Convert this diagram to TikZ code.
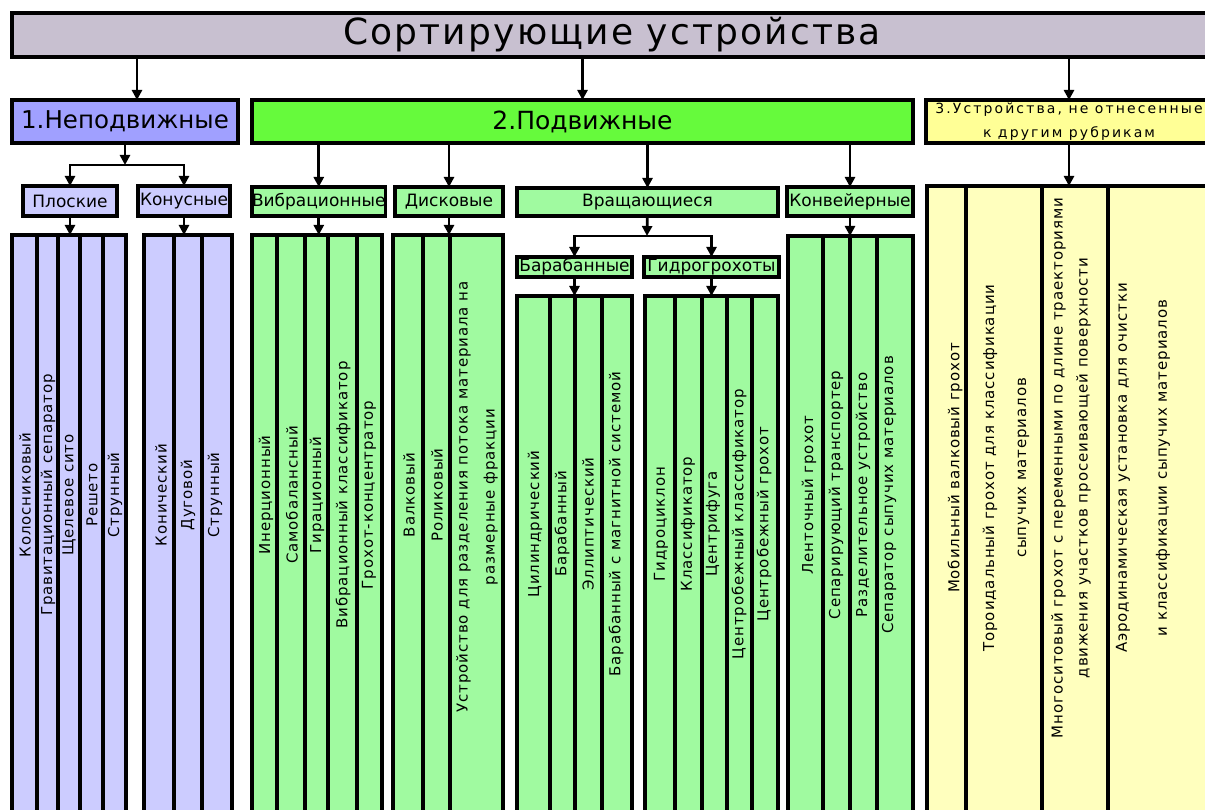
\documentclass[tikz,border=0pt]{standalone}
\usepackage{fontspec}
\setmainfont{DejaVu Sans}
\newfontfamily\cadfont[LetterSpace=6]{DejaVu Sans}
\newfontfamily\cadwide[LetterSpace=15]{DejaVu Sans}
\usetikzlibrary{arrows.meta}

\definecolor{titlegray}{RGB}{200,192,208}
\definecolor{blueA}{RGB}{160,160,255}
\definecolor{blueB}{RGB}{204,204,255}
\definecolor{greenA}{RGB}{102,250,60}
\definecolor{greenB}{RGB}{160,250,160}
\definecolor{yellowA}{RGB}{255,255,150}
\definecolor{yellowB}{RGB}{255,255,190}

\tikzset{
  box/.style={draw, line width=3.5pt, inner sep=0pt, outer sep=0pt, anchor=north west},
  arr/.style={line width=2.8pt, -{Triangle[length=10pt,width=10pt]}},
  divline/.style={line width=3.5pt},
  subtext/.style={font=\fontsize{17}{20}\selectfont},
  coltext/.style={rotate=90, align=center, font=\cadfont\fontsize{15}{24}\selectfont},
}

\begin{document}
\begin{tikzpicture}[x=1pt,y=-1pt]
        \useasboundingbox (0,0) rectangle (1205,810);
        \clip (0,0) rectangle (1205,810);

        % verh
        \node[box,fill=titlegray,minimum width=1200pt,minimum height=44pt,font=\cadfont\fontsize{36}{40}\selectfont] (title) at (12,13) {Сортирующие устройства};

        \node[box,fill=blueA,minimum width=226pt,minimum height=43pt,font=\fontsize{24.5}{30}\selectfont] (n1) at (12,100) {1.Неподвижные};
        \node[box,fill=greenA,minimum width=661pt,minimum height=43pt,font=\fontsize{25}{30}\selectfont] (n2) at (252,100) {2.Подвижные};
        \node[box,fill=yellowA,minimum width=286pt,minimum height=43pt,align=center,font=\cadwide\fontsize{14}{24}\selectfont] (n3) at (926,100) {3.Устройства, не отнесенные\\к другим рубрикам};

        \coordinate (t1) at (137,0);
        \draw[arr] (title.south -| t1) -- (n1.north -| t1);
        \draw[arr] (title.south -| n2.north) -- (n2);
        \draw[arr] (title.south -| n3.north) -- (n3);

        % podgruppy
        \node[box,fill=blueB,minimum width=94pt,minimum height=30pt,subtext] (plosk) at (23,186) {Плоские};
        \node[box,fill=blueB,minimum width=92pt,minimum height=30pt,subtext] (konus) at (138,186) {Конусные};
        \node[box,fill=greenB,minimum width=130pt,minimum height=29pt,subtext] (vibr) at (252,187) {Вибрационные};
        \node[box,fill=greenB,minimum width=108pt,minimum height=29pt,subtext] (disk) at (395,187) {Дисковые};
        \node[box,fill=greenB,minimum width=261pt,minimum height=28pt,subtext] (rot) at (517,188) {Вращающиеся};
        \node[box,fill=greenB,minimum width=126pt,minimum height=29pt,subtext] (konv) at (787,187) {Конвейерные};
        \node[box,fill=greenB,minimum width=115pt,minimum height=20pt,subtext] (baraban) at (517,257) {Барабанные};
        \node[box,fill=greenB,minimum width=135pt,minimum height=20pt,subtext] (hydro) at (644,257) {Гидрогрохоты};

        \coordinate (j1) at (125,165);
        \draw[arr] (n1) -- (j1);
        \draw[arr] (j1) -| (plosk);
        \draw[arr] (j1) -| (konus);

        \draw[arr] (n2.south -| vibr.north) -- (vibr);
        \draw[arr] (n2.south -| disk.north) -- (disk);
        \draw[arr] (n2.south -| rot.north) -- (rot);
        \draw[arr] (n2.south -| konv.north) -- (konv);

        \coordinate (j2) at (647,236);
        \draw[arr] (rot) -- (j2);
        \draw[arr] (j2) -| (baraban);
        \draw[arr] (j2) -| (hydro);

        % stolbcy
        \node[box,fill=blueB,minimum width=114pt,minimum height=640pt] (gPl) at (12,235) {};
        \node[box,fill=blueB,minimum width=88pt,minimum height=640pt] (gKo) at (144,235) {};
        \node[box,fill=greenB,minimum width=130pt,minimum height=640pt] (gVi) at (252,235) {};
        \node[box,fill=greenB,minimum width=110pt,minimum height=640pt] (gDi) at (393,235) {};
        \node[box,fill=greenB,minimum width=115pt,minimum height=580pt] (gBa) at (517,296) {};
        \node[box,fill=greenB,minimum width=133pt,minimum height=580pt] (gHy) at (645,296) {};
        \node[box,fill=greenB,minimum width=125pt,minimum height=640pt] (gKv) at (788,236) {};
        \node[box,fill=yellowB,minimum width=320pt,minimum height=690pt] (gYe) at (927,186) {};

        \draw[arr] (plosk) -- (plosk |- gPl.north);
        \draw[arr] (konus) -- (konus |- gKo.north);
        \draw[arr] (vibr) -- (vibr |- gVi.north);
        \draw[arr] (disk) -- (disk |- gDi.north);
        \draw[arr] (baraban) -- (baraban |- gBa.north);
        \draw[arr] (hydro) -- (hydro |- gHy.north);
        \draw[arr] (konv) -- (konv |- gKv.north);
        \draw[arr] (n3) -- (n3 |- gYe.north);

        \draw[divline] (37,235) -- +(0,640) (58,235) -- +(0,640) (80,235) -- +(0,640) (103,235) -- +(0,640);
        \draw[divline] (174,235) -- +(0,640) (202,235) -- +(0,640);
        \draw[divline] (277,235) -- +(0,640) (305,235) -- +(0,640) (328,235) -- +(0,640) (357,235) -- +(0,640);
        \draw[divline] (423,235) -- +(0,640) (450,235) -- +(0,640);
        \draw[divline] (550,296) -- +(0,580) (575,296) -- +(0,580) (602,296) -- +(0,580);
        \draw[divline] (675,296) -- +(0,580) (702,296) -- +(0,580) (727,296) -- +(0,580) (752,296) -- +(0,580);
        \draw[divline] (823,236) -- +(0,640) (850,236) -- +(0,640) (877,236) -- +(0,640);
        \draw[divline] (966,186) -- +(0,690) (1042,186) -- +(0,690) (1108,186) -- +(0,690);

        % nadpisi
        \node[coltext] (p1) at (25,495) {Колосниковый};
        \node[coltext] (p2) at (48,495) {Гравитационный сепаратор};
        \node[coltext] (p3) at (69,495) {Щелевое сито};
        \node[coltext] (p4) at (92,495) {Решето};
        \node[coltext] (p5) at (115,495) {Струнный};

        \node[coltext] (k1) at (161,495) {Конический};
        \node[coltext] (k2) at (188,495) {Дуговой};
        \node[coltext] (k3) at (215,495) {Струнный};

        \node[coltext] (v1) at (266,495) {Инерционный};
        \node[coltext] (v2) at (292,495) {Самобалансный};
        \node[coltext] (v3) at (317,495) {Гирационный};
        \node[coltext] (v4) at (343,495) {Вибрационный классификатор};
        \node[coltext] (v5) at (369,495) {Грохот-концентратор};

        \node[coltext] (d1) at (409,495) {Валковый};
        \node[coltext] (d2) at (437,495) {Роликовый};
        \node[coltext] (d3) at (477,497) {Устройство для разделения потока материала на\\[3pt]размерные фракции};

        \node[coltext] (b1) at (535,524) {Цилиндрический};
        \node[coltext] (b2) at (562,524) {Барабанный};
        \node[coltext] (b3) at (588,524) {Эллиптический};
        \node[coltext] (b4) at (616,524) {Барабанный с магнитной системой};

        \node[coltext] (h1) at (661,524) {Гидроциклон};
        \node[coltext] (h2) at (688,524) {Классификатор};
        \node[coltext] (h3) at (713,524) {Центрифуга};
        \node[coltext] (h4) at (739,524) {Центробежный классификатор};
        \node[coltext] (h5) at (764,524) {Центробежный грохот};

        \node[coltext] (c1) at (809,495) {Ленточный грохот};
        \node[coltext] (c2) at (836,495) {Сепарирующий транспортер};
        \node[coltext] (c3) at (863,495) {Разделительное устройство};
        \node[coltext] (c4) at (889,495) {Сепаратор сыпучих материалов};

        \node[coltext] (y1) at (955,468) {Мобильный валковый грохот};
        \node[coltext] (y2) at (1006,468) {Тороидальный грохот для классификации\\[8pt]сыпучих материалов};
        \node[coltext] (y3) at (1071,468) {Многоситовый грохот с переменными по длине траекториями\\[1pt]движения участков просеивающей поверхности};
        \node[coltext] (y4) at (1143,468) {Аэродинамическая установка для очистки\\[16pt]и классификации сыпучих материалов};

\end{tikzpicture}
\end{document}
